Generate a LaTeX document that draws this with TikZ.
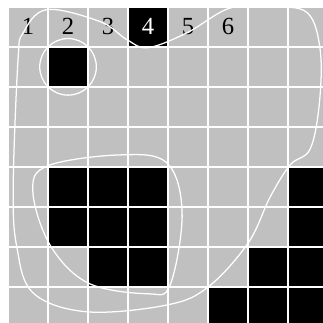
\documentclass[tikz,border=0pt]{standalone}
\usepackage{fontspec}
\setmainfont{Liberation Serif}
\definecolor{cellgray}{RGB}{192,192,192}
\usetikzlibrary{positioning}
\begin{document}
\begin{tikzpicture}[
    x=1cm, y=-1cm,
    blackcell/.style={fill=black},
    gridline/.style={white, line width=1.5pt},
    contour/.style={white, line width=0.9pt},
    numlabel/.style={font=\fontsize{17.5}{20}\selectfont, inner sep=0pt},
  ]
  \useasboundingbox[fill=white] (-0.2,-0.17) rectangle (7.85,7.9);
  \fill[cellgray] (0,0) rectangle (8,8);
  % black cells (column/row)
  \foreach \c/\r in {3/0, 1/1, 1/4, 2/4, 3/4, 7/4, 1/5, 2/5, 3/5, 7/5,
                     2/6, 3/6, 6/6, 7/6, 5/7, 6/7, 7/7}
    \fill[blackcell] (\c,\r) rectangle ++(1,1);
  \foreach \i in {0,...,8} {
    \draw[gridline] (\i,0) -- (\i,8);
    \draw[gridline] (0,\i) -- (8,\i);
  }
  % column numbers
  \foreach \k/\col in {1/black, 2/black, 3/black, 4/white, 5/black, 6/black}
    \node[numlabel, text=\col] (n\k) at (\k-0.5,0.5) {\k};
  % contours
  \draw[contour] (1.5,1.5) circle[radius=0.707];
  \draw[contour] plot[smooth cycle, tension=0.6] coordinates {
    (1.0,3.97) (2.8,3.7) (3.97,3.9) (4.35,5.15) (4.05,6.95)
    (3.5,7.17) (2.0,6.9) (1.05,5.95) (0.62,4.6)};
  \draw[contour] plot[smooth cycle, tension=0.6] coordinates {
    (0.38,0.65) (0.97,0.07) (2.3,0.37) (2.97,0.82) (3.5,1.02)
    (4.47,0.65) (5.55,0.03) (6.6,0.0) (7.48,0.15) (7.8,1.08)
    (7.78,2.4) (7.55,3.55) (7.05,3.95) (6.55,4.75)
    (6.0,5.9) (5.0,7.0) (3.97,7.45) (1.97,7.62) (0.63,7.15)
    (0.22,6.0) (0.13,4.5) (0.25,1.33)};
\end{tikzpicture}
\end{document}
